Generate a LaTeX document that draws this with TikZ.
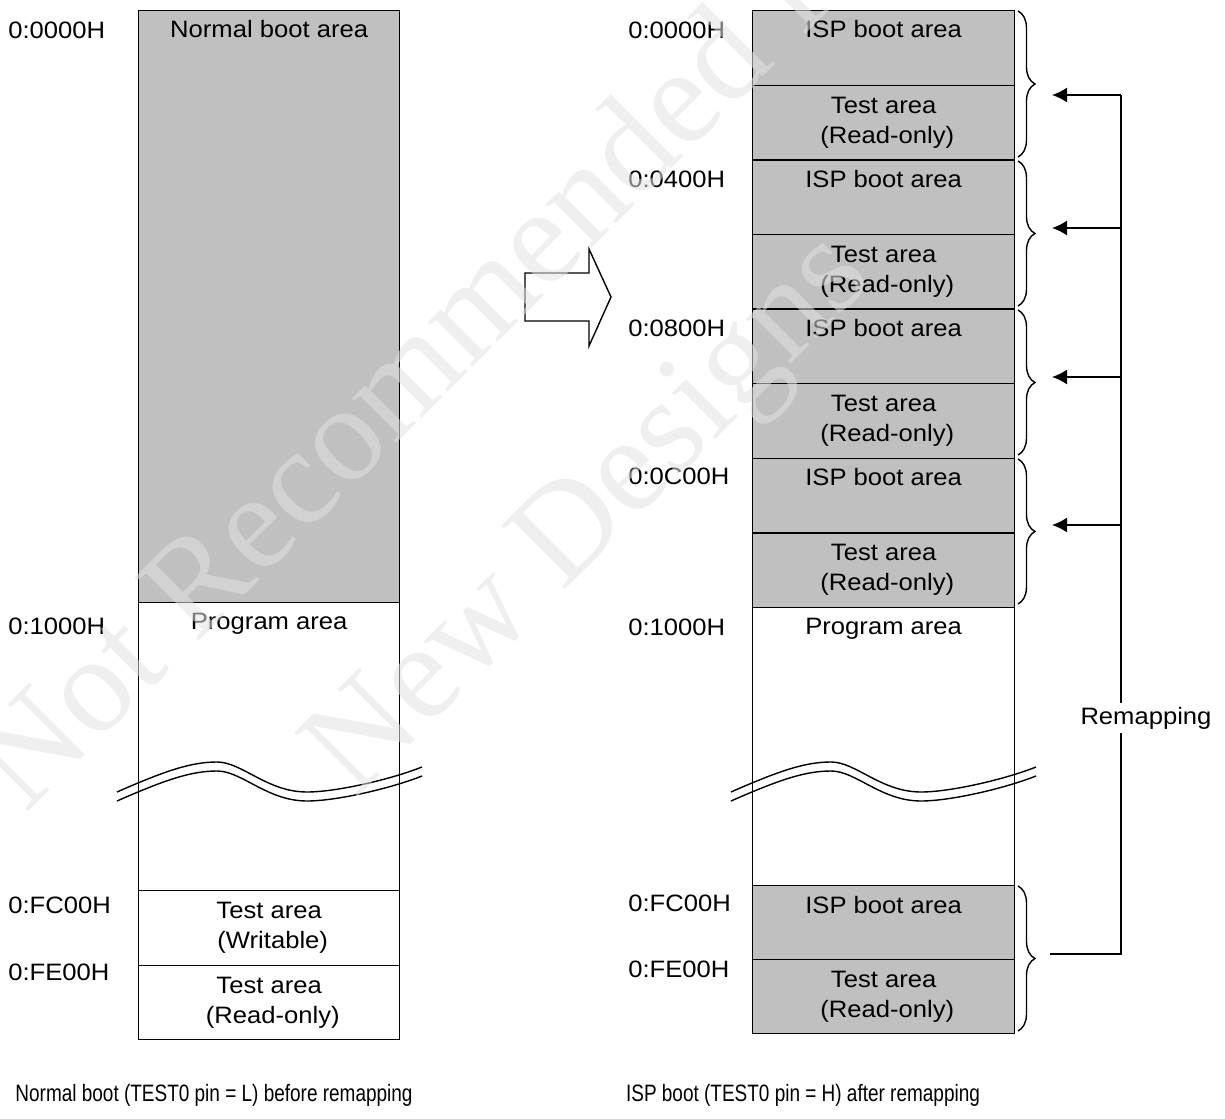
\documentclass[tikz,border=0pt]{standalone}
\usepackage{fontspec}
\setmainfont{Liberation Sans}[FakeStretch=1.08]
\newfontfamily\capfont{Liberation Sans}[FakeStretch=0.8]
\newfontfamily\wmfont{Liberation Serif}
\usetikzlibrary{arrows.meta,decorations.pathreplacing}
\definecolor{bootgray}{RGB}{192,192,192}
\definecolor{wmgray}{RGB}{225,225,225}

\begin{document}
\begin{tikzpicture}[x=0.02cm, y=-0.02cm, font=\fontsize{13.5}{17}\selectfont]
 \tikzstyle{area}=[draw, line width=0.8pt, anchor=north west, inner sep=0pt, align=center]
 \tikzstyle{boot}=[area, fill=bootgray]
 \tikzstyle{lcol}=[minimum width=5.22cm]
 \tikzstyle{rcol}=[minimum width=5.24cm]
 \tikzstyle{toplbl}=[anchor=base, yshift=-0.56cm, inner sep=0pt]
 \tikzstyle{addr}=[anchor=base west, inner sep=0pt]
 \tikzstyle{brk}=[line width=0.8pt]
 \tikzstyle{grp}=[decorate, decoration={brace, amplitude=0.34cm}, line width=0.8pt]
 \tikzstyle{estun}=[-{Latex[length=0.3cm, width=0.3cm]}, line width=0.9pt]
 \tikzstyle{caption}=[font=\capfont\fontsize{13.5}{17}\selectfont]
 \tikzstyle{wmark}=[anchor=base, text=wmgray, text opacity=0.55, font=\wmfont\fontsize{78}{78}\selectfont, rotate=45]
 \useasboundingbox (0,0) rectangle (1225,1119);
 %
 % normal boot map
 \node[boot, lcol, minimum height=11.84cm, label={[toplbl]north:Normal boot area}] (NB) at (138,10) {};
 \node[area, lcol, minimum height=5.76cm, label={[toplbl]north:Program area}] (PL) at (138,602) {};
 \node[area, lcol, minimum height=1.5cm] (TWL) at (138,890) {Test area\\\ (Writable)};
 \node[area, lcol, minimum height=1.48cm] (TRL) at (138,965) {Test area\\\ (Read-only)};
 %
 \node[addr] (aL0) at (8,38) {0:0000H};
 \node[addr] (aL1) at (8,634) {0:1000H};
 \node[addr] (aL2) at (8,913) {0:FC00H};
 \node[addr] (aL3) at (8,980) {0:FE00H};
 %
 % ISP boot map
 \node[boot, rcol, minimum height=1.492cm, label={[toplbl]north:ISP boot area}] (I1) at (752,10) {};
 \node[boot, rcol, minimum height=1.492cm] (T1) at (752,84.6) {Test area\\\ (Read-only)};
 \node[boot, rcol, minimum height=1.492cm, label={[toplbl]north:ISP boot area}] (I2) at (752,159.2) {};
 \node[boot, rcol, minimum height=1.492cm] (T2) at (752,233.8) {Test area\\\ (Read-only)};
 \node[boot, rcol, minimum height=1.492cm, label={[toplbl]north:ISP boot area}] (I3) at (752,308.4) {};
 \node[boot, rcol, minimum height=1.492cm] (T3) at (752,383) {Test area\\\ (Read-only)};
 \node[boot, rcol, minimum height=1.492cm, label={[toplbl]north:ISP boot area}] (I4) at (752,457.6) {};
 \node[boot, rcol, minimum height=1.492cm] (T4) at (752,532.2) {Test area\\\ (Read-only)};
 \node[area, rcol, minimum height=5.564cm, label={[toplbl]north:Program area}] (PR) at (752,606.8) {};
 \node[boot, rcol, minimum height=1.48cm, label={[toplbl]north:ISP boot area}] (I5) at (752,885) {};
 \node[boot, rcol, minimum height=1.48cm] (T5) at (752,959) {Test area\\\ (Read-only)};
 %
 \node[addr] (aR0) at (628,38) {0:0000H};
 \node[addr] (aR1) at (628,187) {0:0400H};
 \node[addr] (aR2) at (628,336) {0:0800H};
 \node[addr] (aR3) at (628,484) {0:0C00H};
 \node[addr] (aR4) at (628,635) {0:1000H};
 \node[addr] (aR5) at (628,911) {0:FC00H};
 \node[addr] (aR6) at (628,977) {0:FE00H};
 %
 % breaks in the program area
 \draw[brk] (117,792) .. controls (167,770) and (192,762) .. (217,762) .. controls (242,762) and (267,792) .. (307,792) .. controls (337,792) and (392,779) .. (422,767);
 \draw[brk, shift={(0,9)}] (117,792) .. controls (167,770) and (192,762) .. (217,762) .. controls (242,762) and (267,792) .. (307,792) .. controls (337,792) and (392,779) .. (422,767);
 \draw[brk, shift={(614,0)}] (117,792) .. controls (167,770) and (192,762) .. (217,762) .. controls (242,762) and (267,792) .. (307,792) .. controls (337,792) and (392,779) .. (422,767);
 \draw[brk, shift={(614,9)}] (117,792) .. controls (167,770) and (192,762) .. (217,762) .. controls (242,762) and (267,792) .. (307,792) .. controls (337,792) and (392,779) .. (422,767);
 %
 % big block arrow
 \draw[line width=0.8pt] (525,273) -- (589,273) -- (589,249) -- (611,297) -- (589,346) -- (589,321) -- (525,321) -- cycle;
 %
 % braces
 \draw[grp] (1018,11) -- (1018,157);
 \draw[grp] (1018,161) -- (1018,306);
 \draw[grp] (1018,310) -- (1018,455);
 \draw[grp] (1018,459) -- (1018,604);
 \draw[grp] (1018,886) -- (1018,1031);
 %
 % remapping arrows
 \coordinate (Rb) at (1050,954);
 \coordinate (R0) at (1121,954);
 \coordinate (R1) at (1121,95);
 \coordinate (R2) at (1121,228);
 \coordinate (R3) at (1121,377);
 \coordinate (R4) at (1121,525);
 \coordinate (E1) at (1052,95);
 \coordinate (E2) at (1052,228);
 \coordinate (E3) at (1052,377);
 \coordinate (E4) at (1052,525);
 \draw[line width=0.9pt] (Rb) -- (R0) -- (R1);
 \draw[estun] (R1) -- (E1);
 \draw[estun] (R2) -- (E2);
 \draw[estun] (R3) -- (E3);
 \draw[estun] (R4) -- (E4);
 \node[fill=white, inner sep=2pt] (RM) at (1146,718) {Remapping};
 %
 % captions
 \node[caption] (capL) at (214,1095) {Normal boot (TEST0 pin = L) before remapping};
 \node[caption] (capR) at (803,1095) {ISP boot (TEST0 pin = H) after remapping};
 %
 % watermark
 \node[wmark] (wm1) at (470,370) {Not Recommended for};
 \node[wmark] (wm2) at (615,540) {New Designs};
\end{tikzpicture}
\end{document}
